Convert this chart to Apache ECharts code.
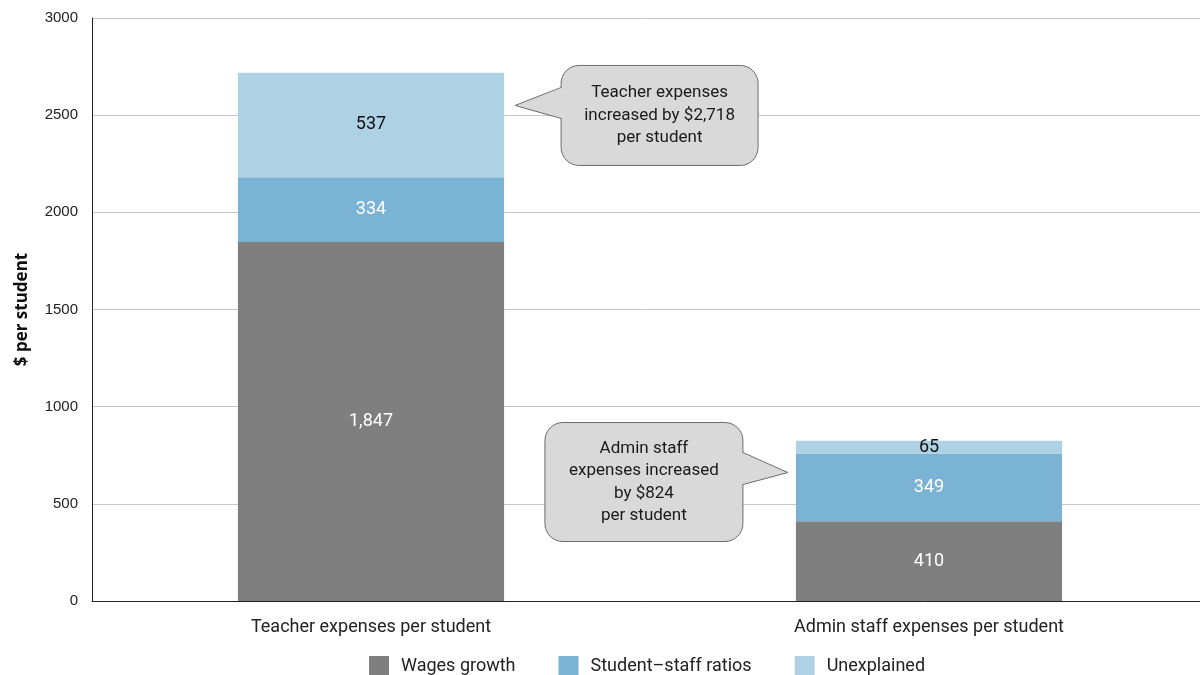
<!DOCTYPE html>
<html>
<head>
<meta charset="utf-8">
<script src="https://cdn.jsdelivr.net/npm/echarts@6/dist/echarts.min.js"></script>
<style>html,body{margin:0;padding:0;background:#fff;}#c{width:1200px;height:675px;}</style>
</head>
<body>
<div id="c"></div>
<script>
const categories = ['Teacher expenses per student', 'Admin staff expenses per student'];
const seriesNames = ['Wages growth', 'Student\u2013staff ratios', 'Unexplained'];
const wagesGrowth = [1847, 410];
const studentStaffRatios = [334, 349];
const unexplained = [537, 65];
const yTicks = { min: 0, max: 3000, interval: 500 };
const calloutTexts = [
  'Teacher expenses\nincreased by $2,718\nper student',
  'Admin staff\nexpenses increased\nby $824\nper student'
];

const FONT = 'Roboto, "Liberation Sans", sans-serif';
const colors = ['#7f7f7f', '#7ab3d3', '#aed1e3'];
const labelColors = ['#ffffff', '#ffffff', '#111111'];
const fmt = v => v.toLocaleString('en-US');

const chart = echarts.init(document.getElementById('c'), null, { renderer: 'canvas' });
const dataSets = [wagesGrowth, studentStaffRatios, unexplained];

const option = {
  animation: false,
  backgroundColor: '#ffffff',
  grid: { left: 92, width: 1116, top: 18, height: 583, containLabel: false, outerBoundsMode: 'none' },
  legend: {
    top: 651, left: 364,
    itemWidth: 20, itemHeight: 20, itemGap: 43,
    icon: 'rect',
    textStyle: { fontFamily: FONT, fontSize: 18, color: '#222', padding: [0, 0, 0, 7] },
    data: seriesNames
  },
  xAxis: {
    type: 'category',
    data: categories,
    axisLine: { show: true, lineStyle: { color: '#222', width: 1 } },
    axisTick: { show: false },
    axisLabel: { fontFamily: FONT, fontSize: 18, color: '#222', margin: 17 }
  },
  yAxis: {
    type: 'value',
    min: yTicks.min, max: yTicks.max, interval: yTicks.interval,
    name: '$ per student',
    nameLocation: 'middle',
    nameGap: 61,
    nameTextStyle: { fontFamily: '"Open Sans", sans-serif', fontWeight: 'bold', fontSize: 17, color: '#111' },
    axisLine: { show: true, lineStyle: { color: '#222', width: 1 } },
    axisTick: { show: false },
    axisLabel: { fontFamily: '"Liberation Sans", Arial, sans-serif', fontSize: 15, color: '#222', margin: 14, formatter: v => String(v) },
    splitLine: { show: true, lineStyle: { color: '#c6c6c6', width: 1 } }
  },
  series: seriesNames.map((name, i) => ({
    name,
    type: 'bar',
    stack: 'total',
    barWidth: '47.7%',
    data: dataSets[i],
    itemStyle: { color: colors[i] },
    label: {
      show: true, position: 'inside',
      formatter: p => fmt(p.value),
      fontFamily: FONT, fontSize: 18, color: labelColors[i]
    }
  }))
};
chart.setOption(option);

// Anchor callouts to the bars
const c0 = chart.convertToPixel({ gridIndex: 0 }, [0, 0]);
const c1 = chart.convertToPixel({ gridIndex: 0 }, [1, 0]);
const band = c1[0] - c0[0];
const halfBar = band * 0.477 / 2;
const yTip1 = chart.convertToPixel({ yAxisIndex: 0 }, 2550);
const yTip2 = chart.convertToPixel({ yAxisIndex: 0 }, 661);

function bubble(box, side, py0, py1, tx, ty, text) {
  const bx = side === 'left' ? box.x0 : box.x1;
  const inset = side === 'left' ? 1.5 : -1.5;
  const style = { fill: '#d9d9d9', stroke: '#6b6b6b', lineWidth: 1 };
  return [
    { type: 'rect', z: 10, shape: { x: box.x0, y: box.y0, width: box.x1 - box.x0, height: box.y1 - box.y0, r: 18 }, style },
    { type: 'polygon', z: 11, shape: { points: [[bx + inset, py0], [tx, ty], [bx + inset, py1]] }, style: { fill: '#d9d9d9', stroke: null } },
    { type: 'polyline', z: 12, shape: { points: [[bx, py0], [tx, ty], [bx, py1]] }, style: { fill: null, stroke: '#6b6b6b', lineWidth: 1 } },
    { type: 'text', z: 13, x: (box.x0 + box.x1) / 2, y: (box.y0 + box.y1) / 2,
      style: { text, align: 'center', verticalAlign: 'middle', font: '17px ' + FONT, lineHeight: 22.5, fill: '#1a1a1a' } }
  ];
}

const b1tx = c0[0] + halfBar + 11;
const b1 = { x0: b1tx + 46, y0: yTip1 - 40, x1: b1tx + 243, y1: yTip1 + 60 };
const b2tx = c1[0] - halfBar - 8;
const b2 = { x0: b2tx - 243, y0: yTip2 - 50, x1: b2tx - 45, y1: yTip2 + 69 };

chart.setOption({
  graphic: [
    ...bubble(b1, 'left', yTip1 - 18, yTip1 + 13, b1tx, yTip1, calloutTexts[0]),
    ...bubble(b2, 'right', yTip2 - 20, yTip2 + 12, b2tx, yTip2, calloutTexts[1])
  ]
});
</script>
</body>
</html>
